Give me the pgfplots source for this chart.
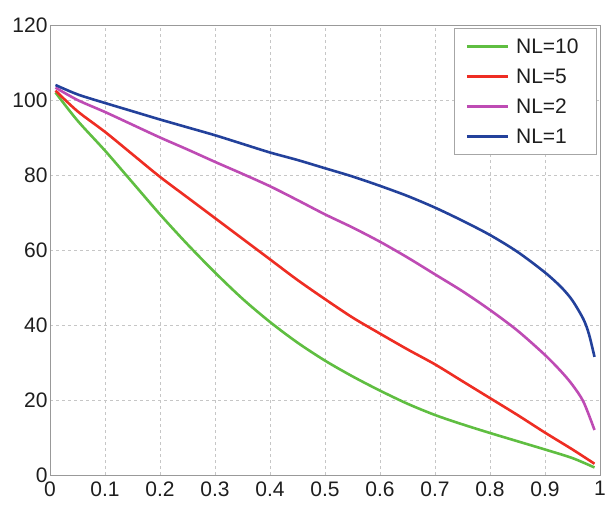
\documentclass[border=0pt]{standalone}
\usepackage{pgfplots}
\pgfplotsset{compat=1.18}
\usepackage{fontspec}
\setmainfont{Liberation Sans}
\definecolor{cgreen}{RGB}{95,190,65}
\definecolor{cred}{RGB}{238,45,35}
\definecolor{cmag}{RGB}{190,75,180}
\definecolor{cblue}{RGB}{35,65,155}
\definecolor{ctext}{RGB}{30,30,30}
\begin{document}
\begin{tikzpicture}
\begin{axis}[
  scale only axis, width=550pt, height=450pt,
  xmin=0, xmax=1, ymin=0, ymax=120,
  xtick={0,0.1,...,1}, ytick={0,20,...,120},
  xticklabels={0,0.1,0.2,0.3,0.4,0.5,0.6,0.7,0.8,0.9,1},
  yticklabels={0,20,40,60,80,100,120},
  /pgf/number format/assume math mode=true,
  tick label style={font=\fontsize{21}{24}\selectfont, text=ctext},
  xticklabel style={yshift=-3pt},
  yticklabel style={xshift=1pt},
  major tick length=0pt,
  axis line style={draw=gray!80, line width=0.8pt},
  grid=major,
  major grid style={dashed, gray!45, line width=0.6pt},
  legend style={at={(rel axis cs:0.9945,0.9933)}, anchor=north east,
    draw=gray!70, line width=0.8pt, font=\fontsize{21}{25}\selectfont, text=ctext,
    inner xsep=11pt, inner ysep=8pt, row sep=10pt,
    nodes={inner xsep=7pt}},
  legend cell align=left,
  legend image code/.code={\draw[#1, line width=2.6pt] (0pt,0pt) -- (41pt,0pt);},
]
\coordinate (ll) at (rel axis cs:0,0);
\coordinate (ur) at (rel axis cs:1,1);
\addplot[cgreen, line width=2.6pt, smooth, tension=0.5] coordinates {
(0.01,102)(0.05,94.5)(0.1,86.5)(0.15,78)(0.2,69.5)(0.25,61.5)(0.3,54)(0.35,47)(0.4,40.8)(0.45,35.3)(0.5,30.5)(0.55,26.3)(0.6,22.5)(0.65,19)(0.7,16)(0.75,13.5)(0.8,11.2)(0.85,9)(0.9,6.8)(0.95,4.5)(0.99,2)};
\addlegendentry{NL=10}
\addplot[cred, line width=2.6pt, smooth, tension=0.5] coordinates {
(0.01,102.5)(0.05,97)(0.1,91.5)(0.15,85.5)(0.2,79.5)(0.25,74)(0.3,68.5)(0.35,63)(0.4,57.5)(0.45,52)(0.5,46.9)(0.55,42)(0.6,37.7)(0.65,33.5)(0.7,29.5)(0.75,25)(0.8,20.5)(0.85,16)(0.9,11.3)(0.95,6.8)(0.99,3)};
\addlegendentry{NL=5}
\addplot[cmag, line width=2.6pt, smooth, tension=0.5] coordinates {
(0.01,103.3)(0.05,100)(0.1,96.8)(0.15,93.4)(0.2,90)(0.25,86.8)(0.3,83.5)(0.35,80.3)(0.4,77)(0.45,73.3)(0.5,69.5)(0.55,66)(0.6,62.2)(0.65,58)(0.7,53.5)(0.75,49)(0.8,44)(0.85,38.5)(0.9,32)(0.93,27.5)(0.95,24)(0.97,19.5)(0.99,12)};
\addlegendentry{NL=2}
\addplot[cblue, line width=2.6pt, smooth, tension=0.5] coordinates {
(0.01,104)(0.05,101.5)(0.1,99.2)(0.15,97)(0.2,94.8)(0.25,92.7)(0.3,90.6)(0.35,88.3)(0.4,86)(0.45,84)(0.5,81.8)(0.55,79.6)(0.6,77.1)(0.65,74.4)(0.7,71.3)(0.75,67.8)(0.8,64)(0.85,59.5)(0.9,54)(0.93,50)(0.95,46.5)(0.97,41.5)(0.98,37.5)(0.99,31.5)};
\addlegendentry{NL=1}
\end{axis}
\pgfresetboundingbox
\path[use as bounding box] ([xshift=-50pt,yshift=-31pt]ll) rectangle ([xshift=5pt,yshift=25pt]ur);
\end{tikzpicture}
\end{document}
